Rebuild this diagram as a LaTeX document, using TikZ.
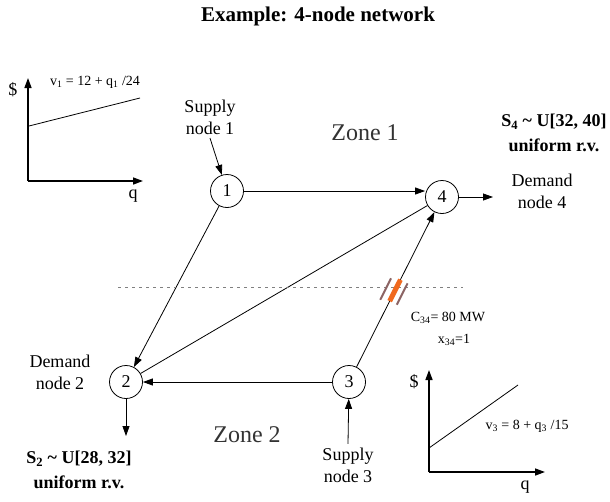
\documentclass[tikz,border=0pt]{standalone}
\usepackage{fontspec}
\setmainfont{Liberation Serif}
\usetikzlibrary{arrows.meta,calc}

\definecolor{caporange}{RGB}{240,105,30}
\definecolor{capbrown}{RGB}{140,100,100}

\tikzset{
 bus/.style={draw, circle, minimum size=33pt, inner sep=0pt, font=\fontsize{18}{20}\selectfont},
 txt/.style={align=center, font=\fontsize{18}{22}\selectfont},
 bold/.style={align=center, font=\fontsize{18}{25}\selectfont\bfseries},
 small/.style={font=\fontsize{14}{17}\selectfont},
 zone/.style={font=\fontsize{24}{28}\selectfont, text=black!80},
 axis/.style={line width=1.5pt, ->},
}

\begin{document}
\begin{tikzpicture}[x=1pt, y=-1pt, >={Triangle[length=10pt,width=7pt]}, line width=.8pt]
 \useasboundingbox (0,0) rectangle (610,501);
 \node[font=\fontsize{21}{24}\selectfont\bfseries] (title) at (318,16) {Example: 4-node network};

 % buses
 \node[bus] (n1) at (227,191) {1};
 \node[bus] (n4) at (442,197) {4};
 \node[bus] (n2) at (126,382) {2};
 \node[bus] (n3) at (349,382) {3};

 % lines
 \draw[->] (n1) -- (n4.west |- n1);
 \draw[->] (n1) -- (n2);
 \draw (n4) -- (n2);
 \draw[->] (n3) -- (n2);
 \draw[->] (n3) -- (n4);

 % zone border and capacity
 \draw[gray, dash pattern=on 3pt off 4pt] (118,287) -- (463,287);
 \coordinate (T) at ($(n3)!0.495!(n4)$);
 \begin{scope}[shift={(T)}, rotate=63.2]
  \draw[capbrown, line width=2pt] (-12,8) -- (12,8);
  \draw[capbrown, line width=2pt] (-15,-9) -- (9,-9);
  \draw[caporange, line width=5pt] (-12,0) -- (12,0);
 \end{scope}
 \node[small] (cap) at (448,318) {C\textsubscript{34}= 80 MW};
 \node[small] (react) at (454,340) {x\textsubscript{34}=1};

 \node[zone] (z1) at (365,133) {Zone 1};
 \node[zone] (z2) at (247,435) {Zone 2};

 % supply and demand
 \node[txt] (sup1) at (210,117) {Supply\\node 1};
 \draw[->] (sup1.south) -- (n1);
 \node[txt] (sup3) at (348,465) {Supply\\node 3};
 \draw[->] (sup3.north) -- (n3);
 \coordinate (d4) at (493,197);
 \draw[->] (n4) -- (d4);
 \node[txt] (dem4) at (542,191) {Demand\\node 4};
 \coordinate (d2) at (126,436);
 \draw[->] (n2) -- (d2);
 \node[txt] (dem2) at (60,372) {Demand\\node 2};
 \node[bold] (s4) at (554,133) {S\textsubscript{4} \textasciitilde{} U[32, 40]\\uniform r.v.};
 \node[bold] (s2) at (79,470) {S\textsubscript{2} \textasciitilde{} U[28, 32]\\uniform r.v.};

 % bid curve node 1
 \coordinate (o1) at (28,181);
 \draw[axis] (o1) -- (28,78);
 \draw[axis] (o1) -- (143,181);
 \draw (29,126) -- (140,98);
 \node[txt] (dol1) at (13,90) {\$};
 \node[txt] (q1) at (133,196) {q};
 \node[small] (v1) at (95,82) {v\textsubscript{1} = 12 + q\textsubscript{1} /24};

 % bid curve node 3
 \coordinate (o3) at (429,472);
 \draw[axis] (o3) -- (429,370);
 \draw[axis] (o3) -- (545,472);
 \draw (429,448) -- (518,385);
 \node[txt] (dol3) at (414,382) {\$};
 \node[txt] (q3) at (525,487) {q};
 \node[small] (v3) at (527,426) {v\textsubscript{3} = 8 + q\textsubscript{3} /15};
\end{tikzpicture}
\end{document}
